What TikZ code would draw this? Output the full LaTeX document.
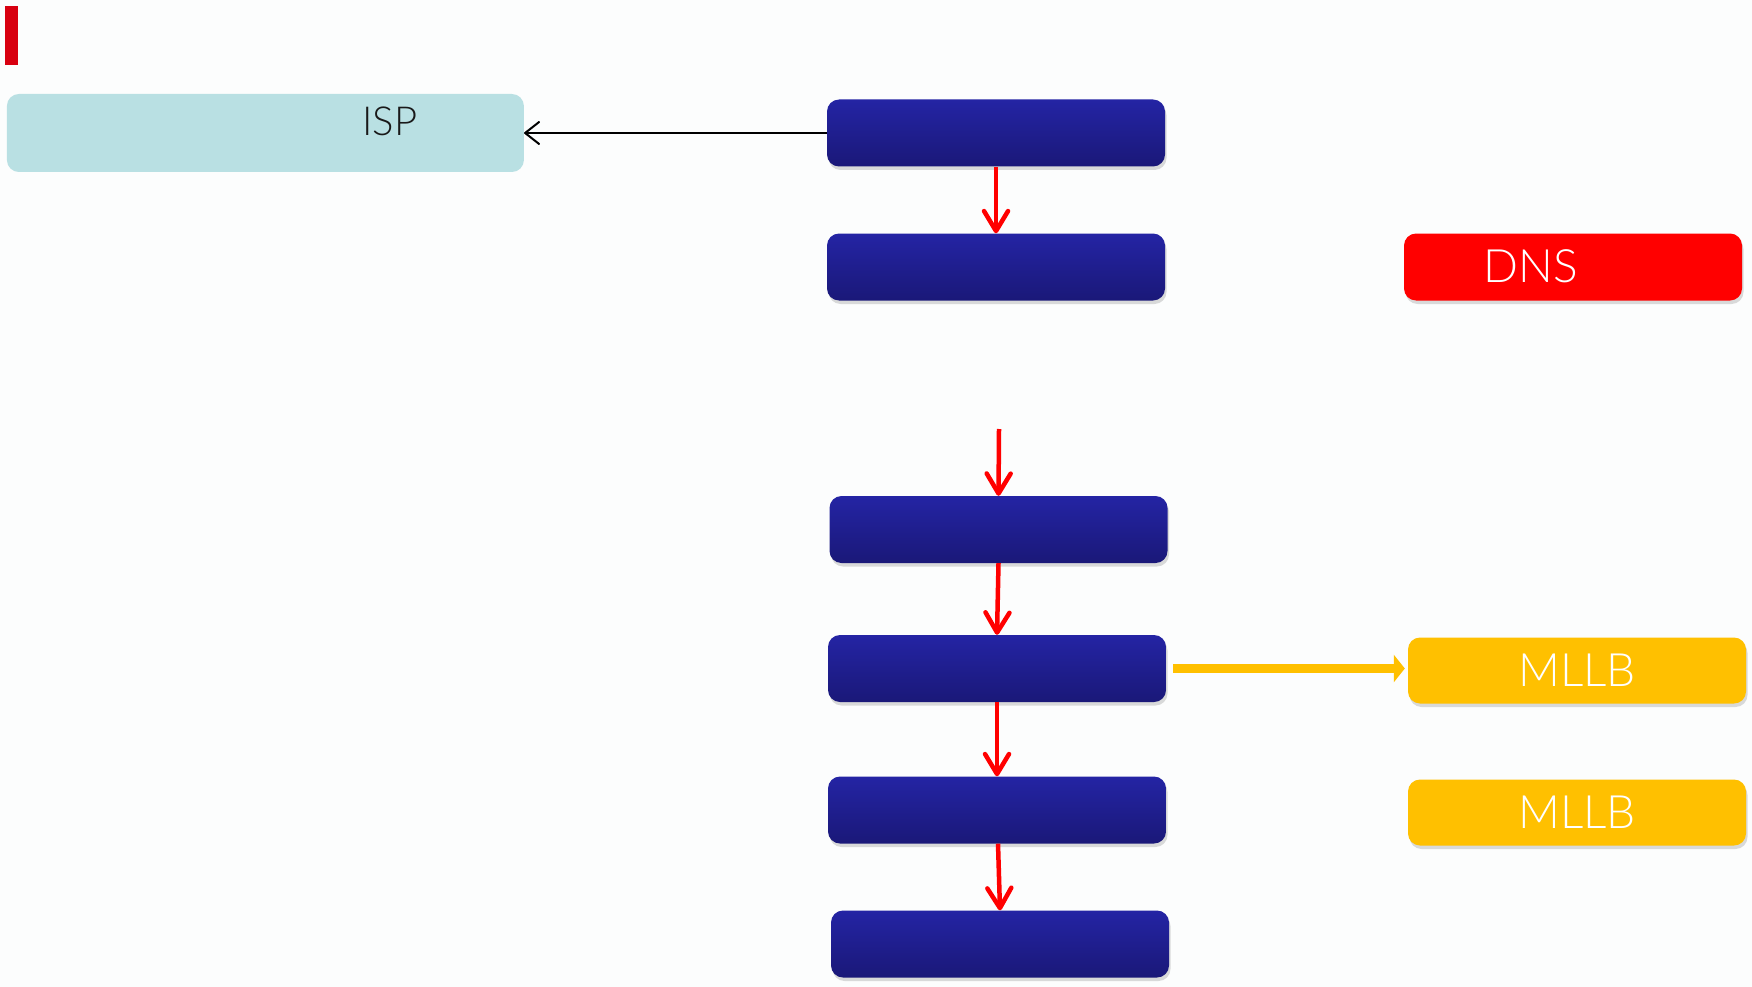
\documentclass[tikz,border=0pt]{standalone}
\usepackage{fontspec}
\setmainfont{Lato}[UprightFont=* Light]
\usetikzlibrary{arrows.meta,shadows}
\definecolor{bg}{RGB}{252,253,253}
\definecolor{btop}{RGB}{36,36,164}
\definecolor{bbot}{RGB}{26,24,120}
\definecolor{ispc}{RGB}{185,224,227}
\definecolor{dnsc}{RGB}{255,0,0}
\definecolor{mllbc}{RGB}{255,192,0}
\definecolor{barc}{RGB}{216,0,16}
\definecolor{redarr}{RGB}{255,0,0}
\begin{document}
\begin{tikzpicture}[x=1pt,y=-1pt,
  shad/.style={drop shadow={shadow xshift=1.5pt,shadow yshift=-3.5pt,opacity=0.14,fill=black}},
  blk/.style={rectangle,rounded corners=12pt,minimum width=338pt,minimum height=67pt,inner sep=0pt,top color=btop,bottom color=bbot,shad},
  sidebox/.style={rectangle,rounded corners=12pt,minimum width=338pt,minimum height=66pt,inner sep=0pt,shad,text=white,font=\fontsize{46}{50}\selectfont},
  redflow/.style={draw=redarr,line width=4.5pt,-{Straight Barb[length=20pt,width=24pt,round]}},
  blkarr/.style={draw=black,line width=2pt,-{Straight Barb[length=14pt,width=22pt,round]}},
  yelarr/.style={draw=mllbc,line width=9pt,-{Triangle[length=11pt,width=27pt]}}]
\fill[bg] (0,0) rectangle (1752,987);
\useasboundingbox (0,0) rectangle (1752,987);
% red marker bar
\fill[barc] (4.5,5.6) rectangle (18,65);
% ISP box
\node[rectangle,rounded corners=12pt,fill=ispc,minimum width=517pt,minimum height=78pt,inner sep=0pt] (isp) at (265.4,133) {};
\node[text=black!90,font=\fontsize{40}{44}\selectfont,inner sep=0pt] (isptext) at (390,121) {ISP};
% blue chain
\node[blk] (b1) at (996,133) {};
\node[blk] (b2) at (996,267) {};
\node[blk] (b3) at (998.5,529.5) {};
\node[blk] (b4) at (997,668.5) {};
\node[blk] (b5) at (997,810) {};
\node[blk] (b6) at (1000,944) {};
% side boxes
\node[sidebox,fill=dnsc,minimum height=67pt] (dns) at (1573,267) {};
\node[text=white,font=\fontsize{46}{50}\selectfont,inner sep=0pt] (dnstext) at (1531,266) {DNS};
\node[sidebox,fill=mllbc] (m1) at (1577,670.5) {MLLB};
\node[sidebox,fill=mllbc] (m2) at (1577,812.5) {MLLB};
% connectors
\draw[blkarr] (b1.west) -- (isp.east);
\draw[redflow] (b1.south) -- (b2.north);
\coordinate (in3) at (999,429);
\draw[redflow] (in3) -- (b3.north);
\draw[redflow] (b3.south) -- (b4.north);
\draw[redflow] (b4.south) -- (b5.north);
\draw[redflow] ([xshift=1pt]b5.south) -- (b6.north);
\draw[yelarr] ([xshift=7pt]b4.east) -- ([xshift=-3pt]m1.west |- b4.east);
\end{tikzpicture}
\end{document}
